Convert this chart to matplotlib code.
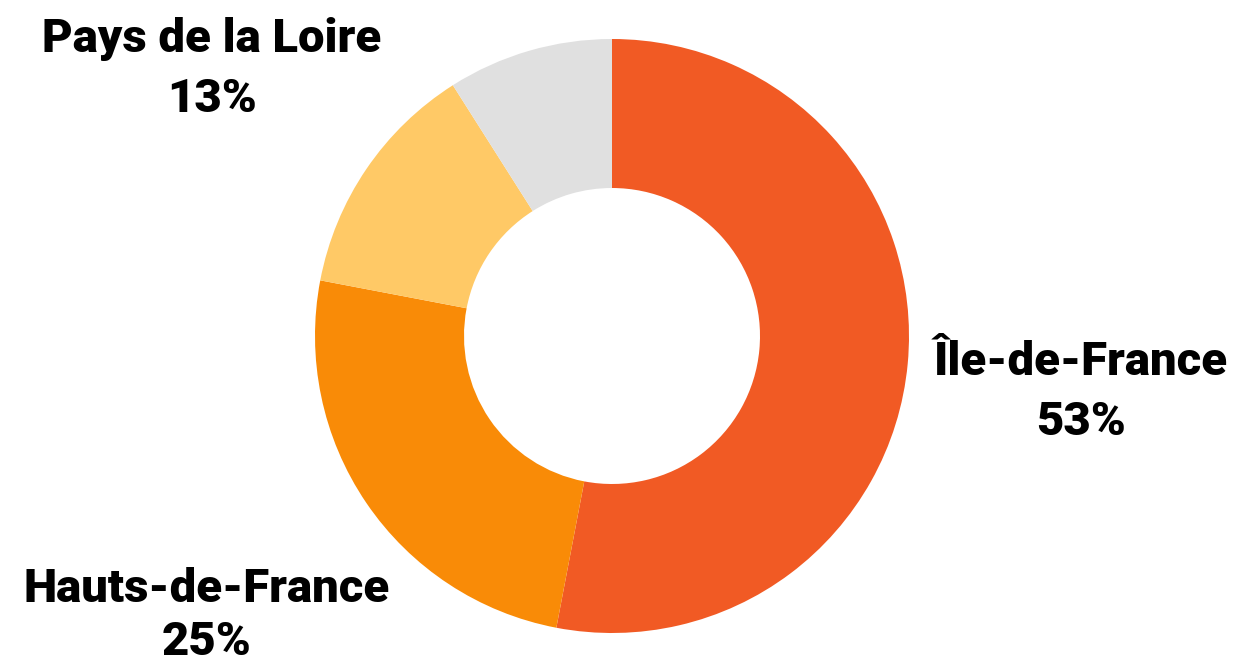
import matplotlib.pyplot as plt

# donnees du graphique
regions = ['Île-de-France', 'Hauts-de-France', 'Pays de la Loire', 'Autres']
parts = [53, 25, 13, 9]
couleurs = ['#F15A24', '#F98B07', '#FFC966', '#E0E0E0']
etiquettes = ['Île-de-France', 'Hauts-de-France', 'Pays de la Loire']
pourcentages = ['53%', '25%', '13%']

plt.rcParams['font.family'] = ['Roboto', 'DejaVu Sans']

fig = plt.figure(figsize=(12.41, 6.58), dpi=100)
ax = fig.add_axes([0, 0, 1, 1])

# le camembert en anneau (axe y inverse -> sens horaire naturel)
ax.pie(parts, colors=couleurs, startangle=-90, counterclock=True,
       center=(612, 336), radius=297,
       wedgeprops=dict(width=149, edgecolor='none'))
ax.set_xlim(0, 1241)
ax.set_ylim(658, 0)
ax.set_aspect('auto')
ax.axis('off')

# positions des etiquettes (pixels) : nom, puis pourcentage
pos = [(1081, 375, 435), (207, 602, 655), (212, 52, 112)]
for (x, y1, y2), nom, pct in zip(pos, etiquettes, pourcentages):
    ax.text(x, y1, nom, ha='center', va='baseline', fontsize=34,
            fontweight='heavy', color='black')
    ax.text(x, y2, pct, ha='center', va='baseline', fontsize=34,
            fontweight='heavy', color='black')

fig.savefig('out.png', dpi=100)
